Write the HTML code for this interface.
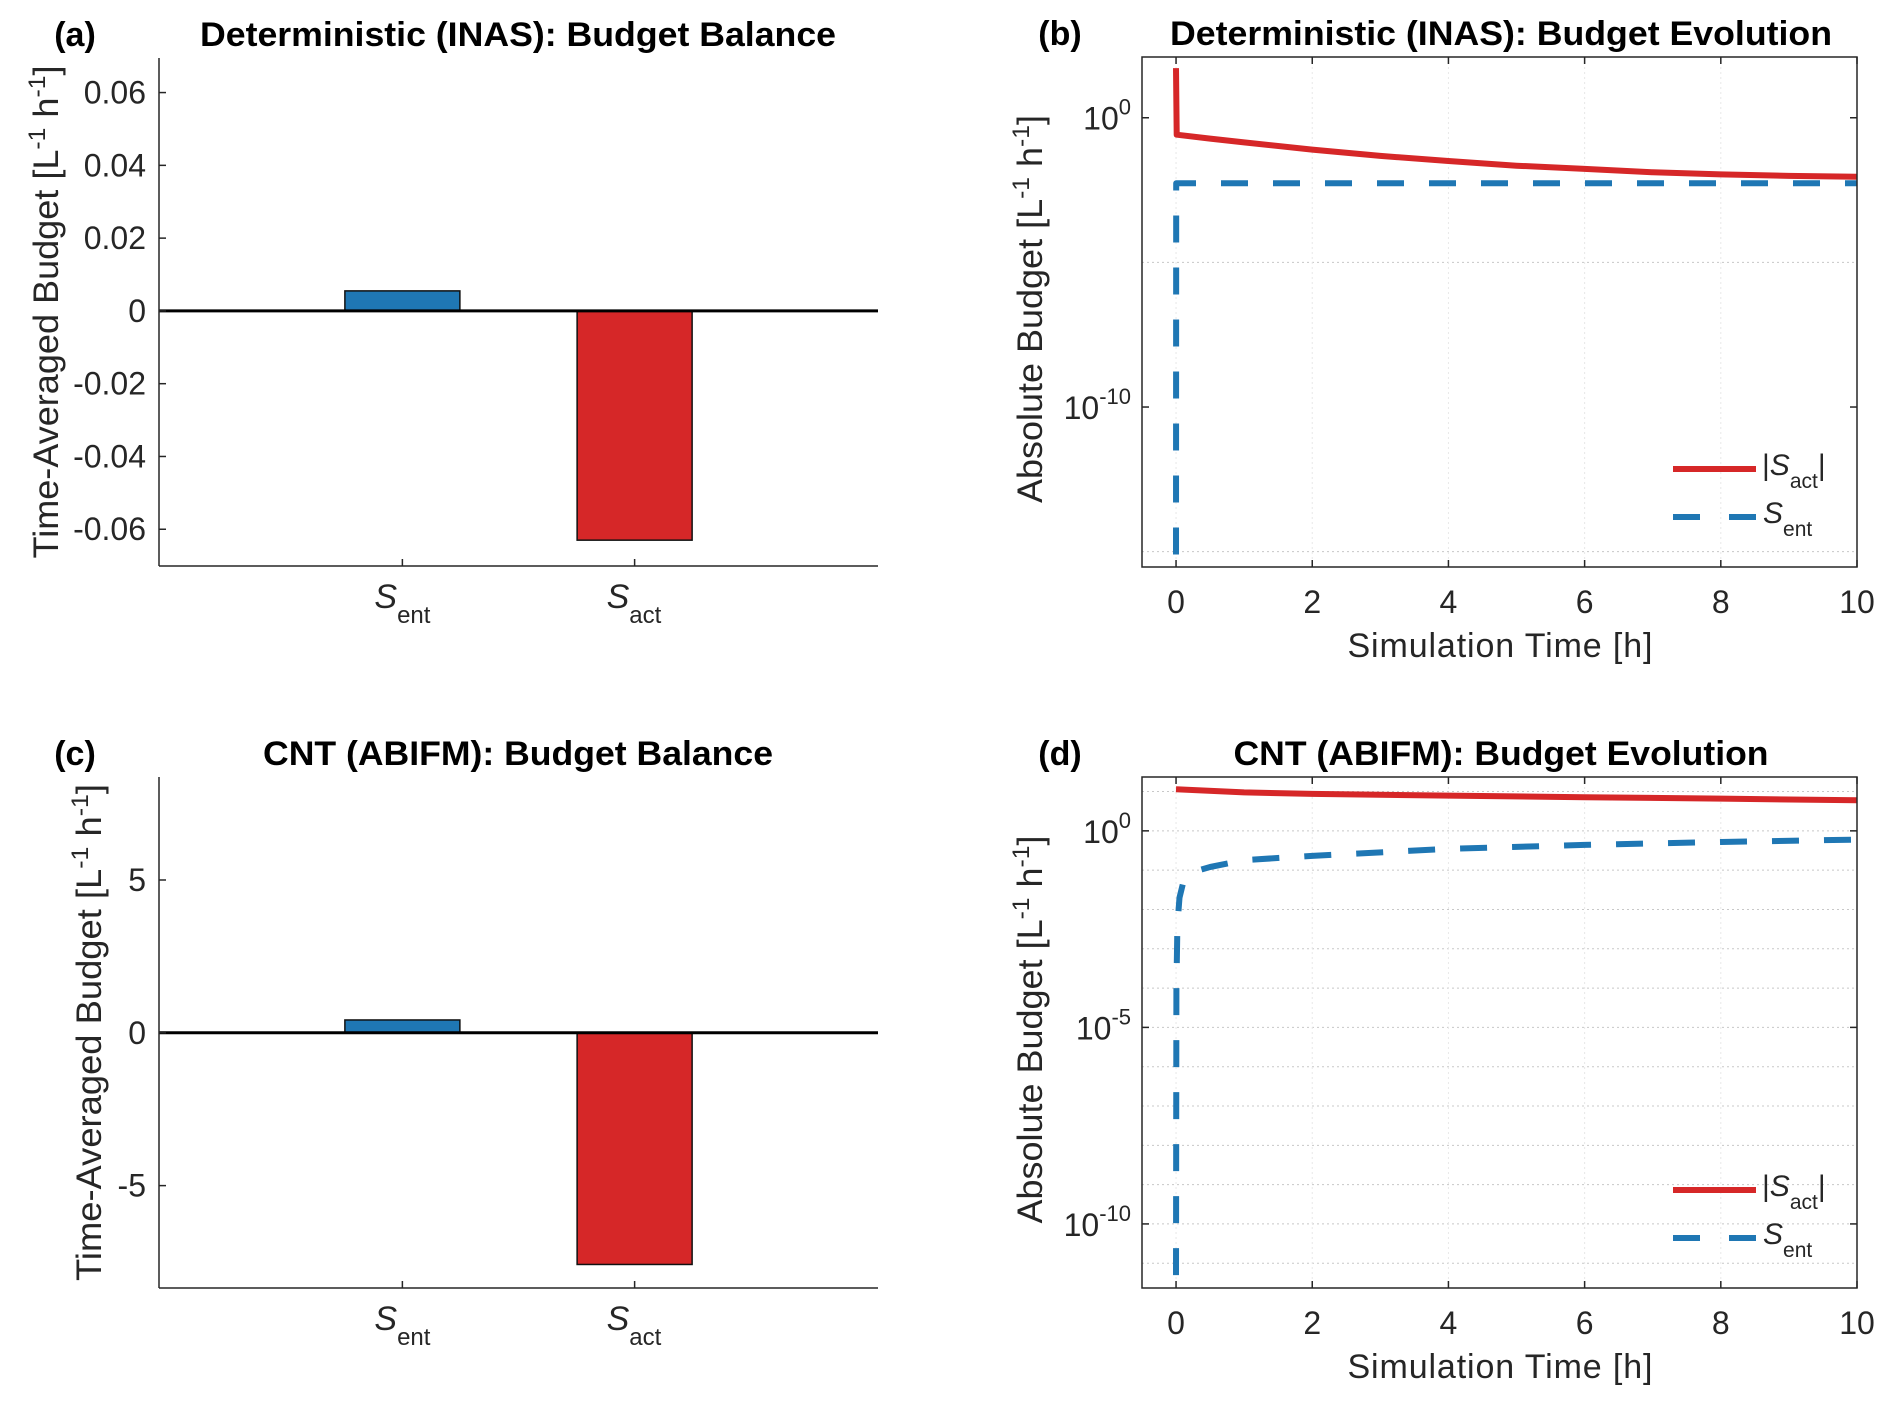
<!DOCTYPE html>
<html><head><meta charset="utf-8"><style>
html,body{margin:0;padding:0;background:#fff;}
svg{display:block;font-family:"Liberation Sans",Arial,sans-serif;}
</style></head><body>
<svg id="fig" width="1892" height="1401" viewBox="0 0 1892 1401" xmlns="http://www.w3.org/2000/svg"></svg>
<script>
// ---- data ----
const barCategories = ["ent", "act"];
const barValuesA = [0.0055, -0.0630];
const barValuesC = [0.42, -7.58];
const barColors = ["#1f77b4", "#d62728"];
const ticksA = [-0.06, -0.04, -0.02, 0, 0.02, 0.04, 0.06];
const tickLabelsA = ["-0.06", "-0.04", "-0.02", "0", "0.02", "0.04", "0.06"];
const ticksC = [-5, 0, 5];
const tickLabelsC = ["-5", "0", "5"];
const xTicksTime = [0, 2, 4, 6, 8, 10];

const timeRedB = [0, 0.01, 0.5, 1, 2, 3, 4, 5, 6, 7, 8, 9, 10];
const valRedB = [52, 0.26, 0.19, 0.14, 0.079, 0.048, 0.032, 0.022, 0.017, 0.013, 0.011, 0.0098, 0.0091];
const timeBlueB = [0, 0.002, 10];
const valBlueB = [8e-16, 0.0054, 0.0054];
const logTicksB = [0, -10];
const logGridB = [-5, -15];

const timeRedD = [0, 1, 2, 4, 6, 8, 10];
const valRedD = [11.5, 9.5, 8.7, 7.9, 7.2, 6.6, 6.0];
const timeBlueD = [0, 0.005, 0.02, 0.05, 0.1, 0.18, 0.3, 0.5, 1, 2, 4, 6, 8, 10];
const valBlueD = [5e-12, 1e-4, 4e-3, 0.02, 0.045, 0.07, 0.095, 0.12, 0.18, 0.23, 0.35, 0.44, 0.52, 0.6];
const logTicksD = [0, -5, -10];

const NS = "http://www.w3.org/2000/svg";
const svg = document.getElementById("fig");
const AX = "#262626";
function el(tag, attrs, parent) {
  const e = document.createElementNS(NS, tag);
  for (const k in attrs) e.setAttribute(k, attrs[k]);
  (parent || svg).appendChild(e);
  return e;
}
function txt(x, y, s, size, anchor, weight, parent) {
  const t = el("text", {x: x, y: y, "font-size": size, "text-anchor": anchor || "start", fill: weight ? "#000" : AX, "font-weight": weight || "normal"}, parent);
  t.textContent = s;
  return t;
}
function span(t, s, attrs) {
  const sp = el("tspan", attrs || {}, t);
  sp.textContent = s;
  return sp;
}

// ---- bar panels ----
function barPanel(id, top, bottom, ylo, yhi, vals, ticks, labels, title, letter, titleLen, ylabBaseX, ylabLen) {
  const g = el("g", {});
  
  
  const L = 159, R = 878, xlo = -0.048, xhi = 3.048;
  const xs = c => L + (c - xlo) / (xhi - xlo) * (R - L);
  const ys = v => bottom - (v - ylo) / (yhi - ylo) * (bottom - top);
  const bw = 115;
  vals.forEach((v, i) => {
    const x = xs(i + 1);
    const y0 = ys(0), y1 = ys(v);
    const r = el("rect", {x: x - bw / 2, y: Math.min(y0, y1), width: bw, height: Math.abs(y1 - y0), fill: barColors[i], stroke: "#111", "stroke-width": 1.5}, g);
    
    
  });
  const zl = el("line", {x1: L, x2: R, y1: ys(0), y2: ys(0), stroke: "#000", "stroke-width": 3}, g);
  
  
  el("line", {x1: L, x2: L, y1: top, y2: bottom, stroke: AX, "stroke-width": 1.5}, g);
  el("line", {x1: L, x2: R, y1: bottom, y2: bottom, stroke: AX, "stroke-width": 1.5}, g);
  ticks.forEach((t, i) => {
    const y = ys(t);
    el("line", {x1: L, x2: L + 7, y1: y, y2: y, stroke: AX, "stroke-width": 1.5}, g);
    const lab = txt(146, y + 11, labels[i], 32, "end", null, g);
    
    
  });
  barCategories.forEach((c, i) => {
    const x = xs(i + 1);
    el("line", {x1: x, x2: x, y1: bottom, y2: bottom - 7, stroke: AX, "stroke-width": 1.5}, g);
    const t = txt(x - 28, bottom + 42, "", 34, "start", null, g);
    
    
    span(t, "S", {"font-style": "italic"});
    span(t, c, {"font-size": 24, dy: 15});
  });
  const tt = txt(518, top - 12, title, 34, "middle", "bold", g);
  tt.setAttribute("textLength", titleLen);
  tt.setAttribute("lengthAdjust", "spacingAndGlyphs");
  
  
  const lt = txt(75, top - 12, letter, 34, "middle", "bold", g);
  
  
  const yl = el("text", {transform: `translate(${ylabBaseX},${(top + bottom) / 2}) rotate(-90)`, "font-size": 35, "text-anchor": "middle", fill: AX, textLength: ylabLen, lengthAdjust: "spacingAndGlyphs"}, g);
  
  
  span(yl, "Time-Averaged Budget [L");
  span(yl, "-1", {"font-size": 24, dy: -13});
  span(yl, " h", {dy: 13});
  span(yl, "-1", {"font-size": 24, dy: -13});
  span(yl, "]", {dy: 13});
}
barPanel("a", 58, 566, -0.0701, 0.0695, barValuesA, ticksA, tickLabelsA, "Deterministic (INAS): Budget Balance", "(a)", 636, 58, 493);
barPanel("c", 777, 1288, -8.35, 8.37, barValuesC, ticksC, tickLabelsC, "CNT (ABIFM): Budget Balance", "(c)", 510, 101, 497);

// ---- log panels ----
function logPanel(id, top, bottom, llo, lhi, tR, vR, tB, vB, ticks, grid, title, letter, titleLen, legY) {
  const g = el("g", {});
  
  
  const L = 1142, R = 1857, xlo = -0.5, xhi = 10;
  const xs = t => L + (t - xlo) / (xhi - xlo) * (R - L);
  const ys = v => bottom - (Math.log10(v) - llo) / (lhi - llo) * (bottom - top);
  const yl = l => bottom - (l - llo) / (lhi - llo) * (bottom - top);
  grid.forEach(l => el("line", {x1: L, x2: R, y1: yl(l), y2: yl(l), stroke: "#c8c8c8", "stroke-width": 1, "stroke-dasharray": "2,3"}, g));
  xTicksTime.forEach(t => el("line", {x1: xs(t), x2: xs(t), y1: top, y2: bottom, stroke: "#e8e8e8", "stroke-width": 1, "stroke-dasharray": "2,3"}, g));
  const pts = (ts, vs) => ts.map((t, i) => xs(t).toFixed(1) + "," + ys(vs[i]).toFixed(1)).join(" ");
  const rl = el("polyline", {points: pts(tR, vR), fill: "none", stroke: "#d62728", "stroke-width": 6, "stroke-linejoin": "round"}, g);
  
  
  const bl = el("polyline", {points: pts(tB, vB), fill: "none", stroke: "#1f77b4", "stroke-width": 6, "stroke-dasharray": "27,25", "stroke-linejoin": "round"}, g);
  
  
  el("rect", {x: L, y: top, width: R - L, height: bottom - top, fill: "none", stroke: AX, "stroke-width": 1.5}, g);
  xTicksTime.forEach(t => {
    const x = xs(t);
    el("line", {x1: x, x2: x, y1: bottom, y2: bottom - 7, stroke: AX, "stroke-width": 1.5}, g);
    el("line", {x1: x, x2: x, y1: top, y2: top + 7, stroke: AX, "stroke-width": 1.5}, g);
    const lab = txt(x, bottom + 46, String(t), 32, "middle", null, g);
    
    
  });
  ticks.forEach(l => {
    const y = yl(l);
    el("line", {x1: L, x2: L + 7, y1: y, y2: y, stroke: AX, "stroke-width": 1.5}, g);
    el("line", {x1: R, x2: R - 7, y1: y, y2: y, stroke: AX, "stroke-width": 1.5}, g);
    const lab = txt(1131, y + 12, "", 32, "end", null, g);
    
    
    span(lab, "10");
    span(lab, String(l), {"font-size": 22, dy: -15});
  });
  const xt = txt(1500, bottom + 90, "Simulation Time [h]", 34, "middle", null, g);
  xt.setAttribute("textLength", 305);
  
  
  const yt = el("text", {transform: `translate(1042,${(top + bottom) / 2 - 3}) rotate(-90)`, "font-size": 35, "text-anchor": "middle", fill: AX, textLength: 388, lengthAdjust: "spacingAndGlyphs"}, g);
  
  
  span(yt, "Absolute Budget [L");
  span(yt, "-1", {"font-size": 24, dy: -13});
  span(yt, " h", {dy: 13});
  span(yt, "-1", {"font-size": 24, dy: -13});
  span(yt, "]", {dy: 13});
  const tt = txt(1501, top - 12, title, 34, "middle", "bold", g);
  tt.setAttribute("textLength", titleLen);
  tt.setAttribute("lengthAdjust", "spacingAndGlyphs");
  
  
  const lt = txt(1060, top - 12, letter, 34, "middle", "bold", g);
  
  
  // legend
  const lg = el("g", {}, g);
  
  
  el("line", {x1: 1673, x2: 1756, y1: legY, y2: legY, stroke: "#d62728", "stroke-width": 6}, lg);
  el("line", {x1: 1673, x2: 1756, y1: legY + 48, y2: legY + 48, stroke: "#1f77b4", "stroke-width": 6, "stroke-dasharray": "27,29"}, lg);
  const e1 = txt(1762, legY + 6, "|", 30, "start", null, lg);
  
  
  span(e1, "S", {"font-style": "italic"});
  span(e1, "act", {"font-size": 21, dy: 13});
  span(e1, "|", {dy: -13});
  const e2 = txt(1763, legY + 54, "", 30, "start", null, lg);
  
  
  span(e2, "S", {"font-style": "italic"});
  span(e2, "ent", {"font-size": 21, dy: 13});
}
logPanel("b", 57, 567, -15.53, 2.1, timeRedB, valRedB, timeBlueB, valBlueB, logTicksB, logGridB, "Deterministic (INAS): Budget Evolution", "(b)", 662, 469);
const gridD = [];
for (let l = 1; l >= -11; l--) gridD.push(l);
logPanel("d", 777, 1288, -11.63, 1.37, timeRedD, valRedD, timeBlueD, valBlueD, logTicksD, gridD, "CNT (ABIFM): Budget Evolution", "(d)", 535, 1190);
</script>
</body></html>
